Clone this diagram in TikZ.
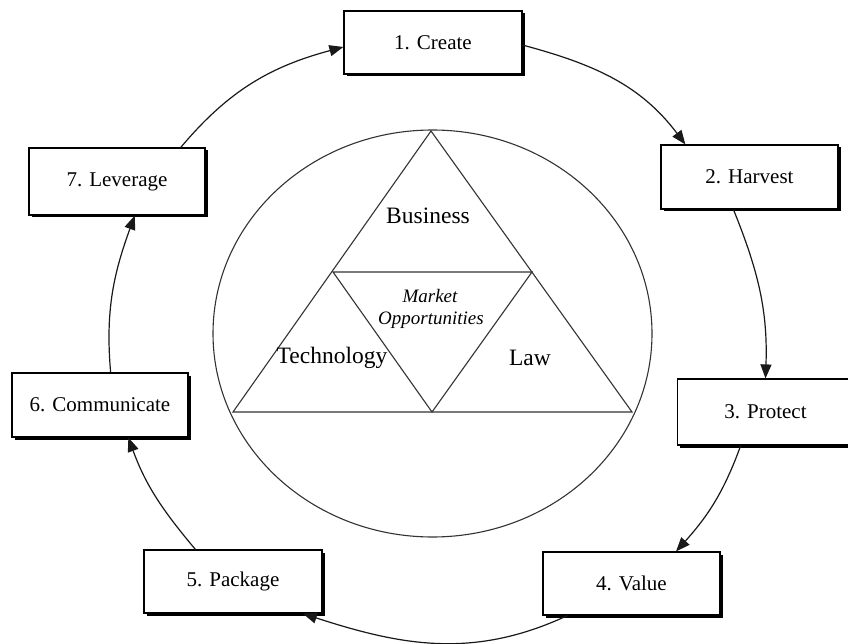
\documentclass[tikz,border=0pt]{standalone}
\usepackage{fontspec}
\setmainfont{Liberation Serif}
\usetikzlibrary{arrows.meta,calc,shadows}
\begin{document}
\begin{tikzpicture}[x=1pt,y=1pt,
  stepbox/.style={draw=black,line width=1.2pt,fill=white,inner sep=0pt,
    minimum width=177pt,minimum height=64pt,
    font=\fontsize{21}{25}\selectfont,
    drop shadow={shadow xshift=2.5pt,shadow yshift=-2.5pt,fill=black,opacity=1}},
  flow/.style={line width=1.2pt,draw=black!90,-{Triangle[length=14pt,width=11pt]}},
  ring/.style={line width=1.1pt,draw=black!80},
  lbl/.style={font=\fontsize{23.5}{28}\selectfont,inner sep=0pt},
  ilbl/.style={font=\fontsize{19}{22}\selectfont\itshape,inner sep=0pt}
]
\useasboundingbox (0,0) rectangle (848,-644);
\clip (0,0) rectangle (848,-644);
\fill[white] (0,0) rectangle (848,-644);

% central ellipse and triangles
\draw[ring] (432.5,-333.5) ellipse [x radius=219.5, y radius=203.5];
\coordinate (ta) at (431,-131);
\coordinate (tl) at (233,-412);
\coordinate (tr) at (632,-412);
\coordinate (ml) at (333,-272);
\coordinate (mr) at (532,-272);
\coordinate (mb) at (432,-412);
\draw[ring] (ta) -- (tl) -- (tr) -- cycle;
\draw[ring] (ml) -- (mr) -- (mb) -- cycle;

\node[lbl] (bus) at (428,-216) {Business};
\node[ilbl] (mkt) at (430,-296) {Market};
\node[ilbl] (opp) at (431,-320) {Opportunities};
\node[lbl] (tec) at (332,-358) {Technology};
\node[lbl] (law) at (530,-358) {Law};

% step boxes
\node[stepbox,minimum width=178pt,minimum height=63pt] (cre) at (433,-42.5) {1. Create};
\node[stepbox,minimum width=177pt,minimum height=64pt] (har) at (749.5,-177) {2. Harvest};
\node[stepbox,minimum width=176pt,minimum height=66pt] (pro) at (765.5,-412) {3. Protect};
\node[stepbox,minimum width=177pt,minimum height=63pt] (val) at (631.5,-583.5) {4. Value};
\node[stepbox,minimum width=178pt,minimum height=63pt] (pkg) at (233,-581.5) {5. Package};
\node[stepbox,minimum width=176pt,minimum height=64pt] (com) at (100,-405) {6. Communicate};
\node[stepbox,minimum width=176pt,minimum height=67pt] (lev) at (117,-181.5) {7. Leverage};

% cycle connectors
\draw[flow] ($(cre.north east)!0.54!(cre.south east)$) to[out=-15,in=127] ($(har.north west)!0.14!(har.north east)$);
\draw[flow] ($(har.south west)!0.41!(har.south east)$) to[out=-68,in=88] (pro.north);
\draw[flow] ($(pro.south west)!0.36!(pro.south east)$) to[out=-110,in=48] ($(val.north west)!0.75!(val.north east)$);
\draw[flow] ($(val.south west)!0.14!(val.south east)$) to[out=-155,in=-18] ($(pkg.south west)!0.89!(pkg.south east)$);
\draw[flow] ($(pkg.north west)!0.29!(pkg.north east)$) to[out=130,in=-70] ($(com.south west)!0.66!(com.south east)$);
\draw[flow] ($(com.north west)!0.56!(com.north east)$) to[out=95,in=-110] ($(lev.south west)!0.6!(lev.south east)$);
\draw[flow] ($(lev.north west)!0.86!(lev.north east)$) to[out=50,in=-165] ($(cre.north west)!0.57!(cre.south west)$);
\end{tikzpicture}
\end{document}
